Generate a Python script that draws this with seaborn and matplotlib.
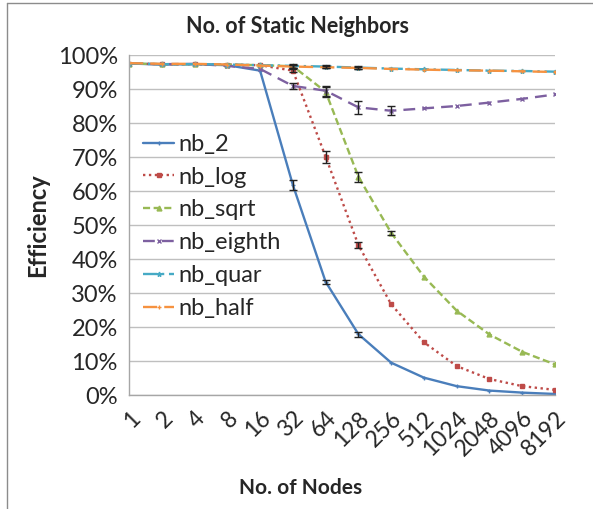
import matplotlib
matplotlib.use("Agg")
import matplotlib.pyplot as plt
import seaborn as sns
import pandas as pd
import numpy as np
from matplotlib.lines import Line2D

nodes = ["1", "2", "4", "8", "16", "32", "64", "128", "256", "512", "1024", "2048", "4096", "8192"]
nb_2 = [97.5, 97.2, 97.3, 97.0, 95.4, 61.8, 33.3, 17.9, 9.5, 5.1, 2.6, 1.3, 0.7, 0.3]
nb_log = [97.5, 97.3, 97.3, 97.2, 97.0, 95.4, 70.1, 44.1, 26.7, 15.5, 8.5, 4.7, 2.6, 1.5]
nb_sqrt = [97.5, 97.3, 97.3, 97.2, 97.0, 96.7, 89.2, 64.2, 47.7, 34.8, 24.8, 17.8, 12.7, 9.0]
nb_eighth = [97.5, 97.3, 97.4, 96.8, 95.9, 90.9, 89.5, 84.6, 83.6, 84.3, 85.0, 86.0, 87.1, 88.4]
nb_quar = [97.5, 97.3, 97.3, 97.2, 97.0, 96.8, 96.6, 96.3, 96.0, 95.8, 95.6, 95.4, 95.3, 95.1]
nb_half = [97.6, 97.4, 97.4, 97.2, 96.9, 96.6, 96.4, 96.2, 95.9, 95.7, 95.5, 95.4, 95.2, 95.0]

# error bar half-widths (percentage points), 0 = none
err_2 = [0, 0, 0, 0, 0, 1.5, 0.6, 0.7, 0, 0, 0, 0, 0, 0]
err_log = [0, 0, 0, 0, 0, 0.5, 1.8, 1.0, 0, 0, 0, 0, 0, 0]
err_sqrt = [0, 0, 0, 0, 0, 0.5, 1.5, 1.5, 0.5, 0, 0, 0, 0, 0]
err_eighth = [0, 0, 0, 0, 0, 1.0, 1.5, 2.0, 1.3, 0, 0, 0, 0, 0]
err_quar = [0, 0, 0, 0, 0, 0.5, 0.4, 0.4, 0, 0, 0, 0, 0, 0]
err_half = [0, 0, 0, 0, 0, 0.4, 0.3, 0.3, 0, 0, 0, 0, 0, 0]

names = ["nb_2", "nb_log", "nb_sqrt", "nb_eighth", "nb_quar", "nb_half"]
series = [nb_2, nb_log, nb_sqrt, nb_eighth, nb_quar, nb_half]
errs = [err_2, err_log, err_sqrt, err_eighth, err_quar, err_half]
colors = ["#4A7EBB", "#BE4B48", "#98B954", "#7D60A0", "#46AAC5", "#F69240"]
linestyles = {"nb_2": "-", "nb_log": (0, (1, 1.5)), "nb_sqrt": (0, (3, 1.5)), "nb_eighth": (0, (5, 3)),
              "nb_quar": (0, (6, 2, 1, 2)), "nb_half": (0, (6, 3))}
markers = {"nb_2": "+", "nb_log": "s", "nb_sqrt": "^", "nb_eighth": "x", "nb_quar": "*", "nb_half": "+"}

sns.set_style("white")
plt.rcParams["font.family"] = ["Lato", "DejaVu Sans"]

fig = plt.figure(figsize=(5.93, 5.09), dpi=100)
ax = fig.add_axes([129 / 593, 1 - 395 / 509, (555 - 129) / 593, (395 - 55) / 509])

for n, vals, c in zip(names, series, colors):
    d = pd.DataFrame({"pos": np.arange(len(nodes)), "eff": vals})
    sns.lineplot(data=d, x="pos", y="eff", color=c, linestyle=linestyles[n],
                 marker=markers[n], markersize=3.5, markeredgewidth=1, markeredgecolor=c,
                 linewidth=1.7, ax=ax)

for vals, e in zip(series, errs):
    idx = [i for i, x in enumerate(e) if x > 0]
    ax.errorbar(idx, [vals[i] for i in idx], yerr=[e[i] for i in idx], fmt="none",
                ecolor="#222222", elinewidth=1, capsize=3, capthick=1, zorder=5)

ax.set_xlim(0, len(nodes) - 1)
ax.set_ylim(0, 100)
ax.set_yticks(np.arange(0, 101, 10))
ax.set_yticklabels([f"{v}%" for v in range(0, 101, 10)], fontsize=17)
ax.set_xticks(range(len(nodes)))
ax.set_xticklabels(nodes, rotation=45, ha="right", va="top", rotation_mode="anchor", fontsize=16.5)
ax.grid(axis="y", color="#BFBFBF", linewidth=1)
ax.set_axisbelow(True)
for s in ["top", "right"]:
    ax.spines[s].set_visible(False)
for s in ["left", "bottom"]:
    ax.spines[s].set_color("#A6A6A6")
    ax.spines[s].set_linewidth(1)
ax.tick_params(axis="x", direction="out", length=5, color="#A6A6A6", width=1, pad=4)
ax.tick_params(axis="y", length=0, pad=8)

ax.set_title("No. of Static Neighbors", fontsize=15.5, fontweight="bold", pad=16,
             x=(297 - 129) / 426)
ax.set_xlabel("No. of Nodes", fontsize=15, fontweight="bold")
ax.xaxis.set_label_coords((301 - 129) / 426, -0.245)
ax.set_ylabel("Efficiency", fontsize=17, fontweight="bold", labelpad=6)

handles = [Line2D([0], [0], color=c, linestyle=linestyles[n],
                  marker=markers[n], markersize=3.5, linewidth=1.7) for n, c in zip(names, colors)]
ax.legend(handles, names, loc="upper left", bbox_to_anchor=(0.0, 0.81), frameon=False, numpoints=1,
          fontsize=17, handlelength=1.3, handletextpad=0.2, labelspacing=0.5, borderaxespad=0.2)

fig.add_artist(Line2D([7 / 593, 7 / 593], [0, 1 - 3 / 509], color="#8C8C8C", linewidth=1))
fig.add_artist(Line2D([7 / 593, 1], [1 - 3 / 509, 1 - 3 / 509], color="#8C8C8C", linewidth=1))

fig.savefig("out.png", dpi=100)
